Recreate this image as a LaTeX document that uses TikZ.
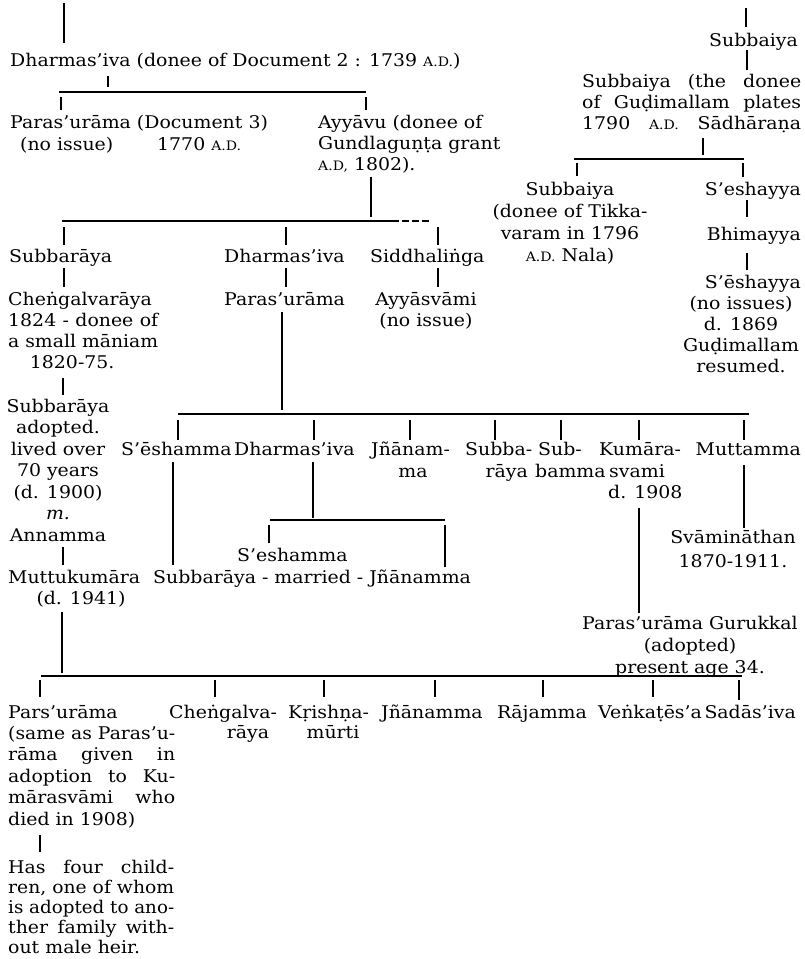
\documentclass[tikz,border=0pt]{standalone}
\usepackage{fontspec}
\usepackage{graphicx}
\setmainfont{DejaVu Serif}[FakeStretch=1.08]
\newcommand\ad{{\fontsize{13}{15}\selectfont A.D.}}
\newcommand\adc{{\fontsize{13}{15}\selectfont A.D,}}
\newcommand\cblock[2][21pt]{\vtop{\baselineskip=#1\lineskiplimit=-100pt\halign{\hfil##\hfil\cr#2\crcr}}}
\newcommand\lblock[2][21pt]{\vtop{\baselineskip=#1\lineskiplimit=-100pt\halign{##\hfil\cr#2\crcr}}}
\newcommand\jl[2]{\setbox0\hbox{#2}\ifdim\wd0>#1\relax\resizebox{#1}{\height}{\box0}\else\hbox to #1{#2}\fi}
\newcommand\vln[5][lnk]{\coordinate (#2-a) at (#3,#4); \coordinate (#2-b) at (#3,#5); \draw[#1] (#2-a) -- (#2-b);}
\newcommand\hln[5][bar]{\coordinate (#2-a) at (#3,#5); \coordinate (#2-b) at (#4,#5); \draw[#1] (#2-a) -- (#2-b);}
\begin{document}
\begin{tikzpicture}[x=1pt,y=-1pt,
  txt/.style={inner sep=0pt, font=\fontsize{17.5}{21}\selectfont},
  lnk/.style={line width=1.1pt, black},
  bar/.style={line width=1.3pt, black},
  thk/.style={line width=2.6pt, black}]
\fill[white] (0,0) rectangle (804,959);
\useasboundingbox (0,0) rectangle (804,959);

% ---------- texts: left upper
\node[txt,anchor=base west] (dh1) at (10,66) {Dharmas’iva (donee of Document 2 : 1739 \ad)};
\node[txt,anchor=base west] (pa1) at (10,128) {Paras’urāma (Document 3)};
\node[txt,anchor=base west] (pa1n) at (20,150) {(no issue)};
\node[txt,anchor=base west] (pa1d) at (157,150) {1770 \ad};
\node[txt,anchor=base west] (ay) at (318,128) {\lblock{Ayyāvu (donee of\cr Gundlaguṇṭa grant\cr \adc\ 1802).}};

% ---------- texts: right upper
\node[txt,anchor=base east] (sbA) at (798,46) {Subbaiya};
\node[txt,anchor=base west] (sbB) at (582,87) {\lblock{\jl{219pt}{Subbaiya (the donee}\cr \jl{219pt}{of Guḍimallam plates}\cr \jl{219pt}{1790 \ad\ Sādhāraṇa}}};
\node[txt,anchor=base] (sbC) at (570,195) {\cblock[22pt]{Subbaiya\cr (donee of Tikka-\cr varam in 1796\cr \ad\ Nala)}};
\node[txt,anchor=base east] (seA) at (801,195) {S’eshayya};
\node[txt,anchor=base east] (bh) at (801,240) {Bhimayya};
\node[txt,anchor=base east] (seB) at (801,288) {S’ēshayya};
\node[txt,anchor=base] (seC) at (741,309) {\cblock{(no issues)\cr d. 1869\cr Guḍimallam\cr resumed.}};

% ---------- second generation
\node[txt,anchor=base west] (sr1) at (9,262) {Subbarāya};
\node[txt,anchor=base west] (dh2) at (224,262) {Dharmas’iva};
\node[txt,anchor=base west] (sid) at (370,262) {Siddhaliṅga};
\node[txt,anchor=base west] (ch1) at (8,305) {\lblock{Cheṅgalvarāya\cr \jl{150pt}{1824 - donee of}\cr \jl{150pt}{a small māniam}\cr \hbox to 128pt{\hfil 1820-75.\hfil}}};
\node[txt,anchor=base west] (pa2) at (224,305) {Paras’urāma};
\node[txt,anchor=base] (ays) at (426,305) {\cblock{Ayyāsvāmi\cr (no issue)}};

% ---------- left chain
\node[txt,anchor=base] (sr2) at (58,412) {\cblock[21.5pt]{Subbarāya\cr adopted.\cr lived over\cr 70 years\cr (d. 1900)\cr \textit{m.}\cr Annamma}};
\node[txt,anchor=base west] (mk) at (8,583) {Muttukumāra};
\node[txt,anchor=base] (mkd) at (81,604) {(d. 1941)};

% ---------- third generation
\node[txt,anchor=base west] (se3) at (121,455) {S’ēshamma};
\node[txt,anchor=base west] (dh3) at (234,455) {Dharmas’iva};
\node[txt,anchor=base west] (jn3) at (371,455) {Jñānam-};
\node[txt,anchor=base] (jn3b) at (413,477) {ma};
\node[txt,anchor=base west] (sr3) at (465,455) {Subba-};
\node[txt,anchor=base east] (sr3b) at (528,477) {rāya};
\node[txt,anchor=base west] (sb3) at (538,455) {Sub-};
\node[txt,anchor=base west] (sb3b) at (535,477) {bamma};
\node[txt,anchor=base west] (ku) at (599,455) {Kumāra-};
\node[txt,anchor=base west] (ku2) at (609,477) {svami};
\node[txt,anchor=base west] (ku3) at (608,498) {d. 1908};
\node[txt,anchor=base east] (mu) at (801,455) {Muttamma};

% ---------- fourth generation
\node[txt,anchor=base west] (se4) at (237,561) {S’eshamma};
\node[txt,anchor=base west] (mar) at (153,583) {Subbarāya - married - Jñānamma};
\node[txt,anchor=base] (sv) at (733,543) {\cblock[24pt]{Svāmināthan\cr 1870-1911.}};
\node[txt,anchor=base] (pg) at (690,629) {\cblock[22pt]{Paras’urāma Gurukkal\cr (adopted)\cr present age 34.}};

% ---------- bottom row
\node[txt,anchor=base west] (pr) at (8,718) {\lblock[21.4pt]{Pars’urāma\cr \jl{167pt}{(same as Paras’u-}\cr \jl{167pt}{rāma given in}\cr \jl{167pt}{adoption to Ku-}\cr \jl{167pt}{mārasvāmi who}\cr died in 1908)}};
\node[txt,anchor=base west] (hf) at (8,873) {\lblock[20pt]{\jl{166pt}{Has four child-}\cr \jl{166pt}{ren, one of whom}\cr \jl{166pt}{is adopted to ano-}\cr \jl{166pt}{ther family with-}\cr out male heir.}};
\node[txt,anchor=base west] (ch2) at (169,718) {Cheṅgalva-};
\node[txt,anchor=base] (ch2b) at (248,738) {rāya};
\node[txt,anchor=base west] (kr) at (288,718) {Kṛishṇa-};
\node[txt,anchor=base] (kr2) at (333,738) {mūrti};
\node[txt,anchor=base west] (jn5) at (381,718) {Jñānamma};
\node[txt,anchor=base west] (rj) at (497,718) {Rājamma};
\node[txt,anchor=base west] (vk) at (598,718) {Veṅkaṭēs’a};
\node[txt,anchor=base east] (sd) at (796,718) {Sadās’iva};

% ---------- connectors: left
\vln{t0}{64}{3}{43}
\vln{t1}{108}{76}{87}
\hln{b1}{59}{366}{92}
\vln{t2}{61}{97}{110}
\vln{t3}{366}{97}{110}
\vln[thk]{t4}{371}{177}{217}
\hln{b2}{62}{392}{221}
\coordinate (b2-c) at (432,221);
\draw[bar,dash pattern=on 7pt off 3pt] (b2-b) -- (b2-c);
\vln{t5}{64}{227}{245}
\vln{t6}{286}{227}{245}
\vln{t7}{438}{227}{245}
\vln{t8}{64}{268}{287}
\vln{t9}{286}{268}{287}
\vln{t10}{438}{268}{287}
\vln{t11}{63}{378}{395}
\vln{t12}{282}{312}{410}
\hln{b3}{178}{749}{414}
\vln{u1}{178}{420}{440}
\vln{u2}{314}{420}{440}
\vln{u3}{410}{420}{440}
\vln{u4}{495}{420}{440}
\vln{u5}{561}{420}{440}
\vln{u6}{639}{420}{440}
\vln{u7}{744}{420}{440}
\vln{t20}{173}{462}{565}
\vln{t21}{313}{462}{518}
\hln{b4}{270}{445}{520}
\vln{t22}{269}{525}{543}
\vln[thk]{t23}{445}{525}{567}
\vln{t24}{639}{508}{613}
\vln{t25}{744}{465}{528}
\vln{t26}{63}{547}{565}
\vln[thk]{t27}{62}{612}{673}
\hln{b5}{41}{742}{676}
\vln{w1}{40}{680}{697}
\vln{w2}{215}{680}{697}
\vln{w3}{324}{680}{697}
\vln{w4}{435}{680}{697}
\vln{w5}{543}{680}{697}
\vln{w6}{653}{680}{697}
\vln{w7}{739}{680}{700}
\vln{t40}{40}{835}{852}

% ---------- connectors: right
\vln{r1}{746}{8}{27}
\vln{r2}{747}{50}{70}
\vln{r3}{703}{138}{155}
\hln{b6}{574}{744}{159}
\vln{r4}{577}{163}{176}
\vln{r5}{743}{163}{177}
\vln{r6}{747}{200}{217}
\vln{r7}{747}{253}{270}
\end{tikzpicture}
\end{document}
